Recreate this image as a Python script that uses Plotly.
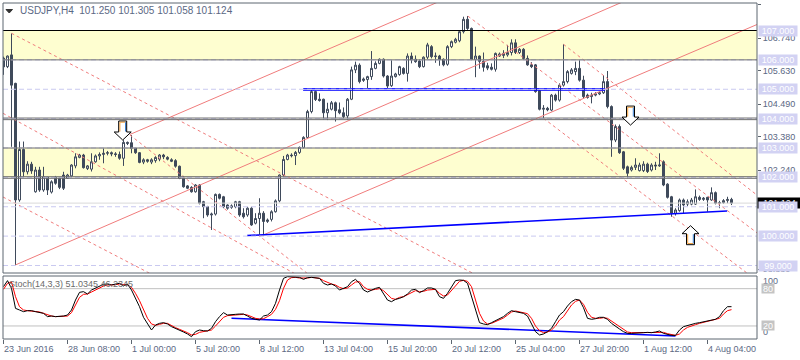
import plotly.graph_objects as go

# ---------------- data ----------------
time_ticks = [0, 16, 32, 48, 64, 80, 96, 112, 128, 144, 160, 176]
time_labels = ["23 Jun 2016", "28 Jun 08:00", "1 Jul 00:00", "5 Jul 20:00", "8 Jul 12:00",
               "13 Jul 04:00", "15 Jul 20:00", "20 Jul 12:00", "25 Jul 04:00", "27 Jul 20:00",
               "1 Aug 12:00", "4 Aug 04:00"]
price_ticks = [107.88, 106.74, 105.63, 104.49, 103.38, 102.24, 98.88]
level_labels = [107, 106, 105, 104, 103, 102, 101, 100, 99]
last_price = 101.124

open_ = [
    106.06, 105.77, 106.17, 105.20, 101.23, 102.95, 102.19, 102.45, 101.51, 102.25,
    101.57, 102.00, 101.50, 101.99, 101.97, 102.08, 101.97, 102.05, 102.39, 102.68,
    102.76, 102.30, 102.28, 102.53, 102.73, 102.78, 102.82, 102.84, 102.80, 102.78,
    102.65, 103.19, 103.18, 102.99, 102.84, 102.52, 102.60, 102.52, 102.57, 102.62,
    102.76, 102.68, 102.60, 102.57, 102.38, 101.97, 101.71, 101.66, 101.51, 101.74,
    101.17, 101.00, 100.72, 100.75, 101.42, 101.34, 101.06, 100.98, 101.00, 101.17,
    100.78, 100.72, 100.95, 100.44, 100.60, 100.78, 100.50, 100.57, 100.83, 101.20,
    102.08, 102.61, 102.76, 102.74, 102.85, 103.02, 103.36, 104.24, 104.92, 104.66,
    104.66, 104.20, 104.32, 104.54, 104.30, 104.20, 104.09, 104.66, 105.66, 105.82,
    105.30, 105.33, 105.43, 105.71, 105.88, 106.02, 105.45, 105.12, 105.43, 105.50,
    105.71, 105.54, 106.13, 106.02, 105.96, 105.77, 106.09, 106.45, 106.11, 106.13,
    106.02, 105.85, 106.45, 106.60, 106.65, 106.96, 107.38, 107.07, 106.02, 106.13,
    105.95, 105.80, 105.75, 105.68, 106.13, 106.15, 106.17, 106.25, 106.58, 106.25,
    106.36, 106.05, 105.83, 105.83, 104.95, 104.32, 104.35, 104.29, 104.80, 104.63,
    105.14, 105.26, 105.54, 105.60, 105.71, 105.31, 104.80, 104.75, 104.80, 104.84,
    104.88, 105.26, 104.41, 103.27, 103.73, 102.87, 102.36, 102.25, 102.34, 102.23,
    102.23, 102.45, 102.25, 102.42, 102.39, 102.53, 101.77, 101.34, 100.78, 100.87,
    101.23, 101.09, 101.09, 101.09, 101.32, 101.25, 101.32, 101.23, 101.48, 101.12,
    101.14, 101.21, 101.250,
]
high_ = [
    106.11, 106.15, 106.90, 105.22, 103.22, 103.22, 102.55, 102.53, 102.36, 102.36,
    102.36, 102.02, 101.90, 102.05, 102.00, 102.19, 102.12, 102.45, 102.82, 102.80,
    102.80, 102.42, 102.82, 102.78, 102.85, 102.99, 102.90, 102.88, 102.86, 102.88,
    103.27, 103.22, 103.44, 103.00, 102.86, 102.65, 102.63, 102.65, 102.72, 102.79,
    102.80, 102.72, 102.65, 102.62, 102.40, 102.05, 101.74, 101.70, 101.77, 101.77,
    101.20, 101.03, 100.80, 101.45, 101.45, 101.37, 101.08, 101.08, 101.20, 101.20,
    100.95, 101.00, 101.00, 100.78, 101.29, 100.85, 100.60, 100.88, 101.25, 102.10,
    102.73, 102.80, 102.82, 102.90, 103.05, 103.40, 104.30, 104.98, 104.95, 104.86,
    104.68, 104.54, 104.60, 104.58, 104.55, 104.38, 104.70, 105.77, 105.94, 105.88,
    105.40, 105.46, 106.30, 105.95, 106.05, 106.05, 105.48, 105.99, 105.56, 105.80,
    105.75, 106.22, 106.25, 106.15, 106.02, 106.12, 106.58, 106.50, 106.25, 106.17,
    106.05, 106.50, 106.66, 106.75, 107.00, 107.47, 107.49, 107.10, 106.45, 106.15,
    106.25, 105.90, 105.88, 106.25, 106.25, 106.33, 106.51, 106.70, 106.70, 106.40,
    106.40, 106.15, 105.92, 105.86, 104.98, 104.46, 104.40, 104.84, 104.85, 105.20,
    106.53, 105.65, 105.72, 105.94, 105.99, 105.46, 104.85, 104.88, 104.90, 104.92,
    105.48, 105.62, 104.45, 103.80, 103.80, 102.90, 102.40, 102.40, 102.65, 102.50,
    102.55, 102.50, 102.48, 102.53, 102.82, 102.58, 101.80, 101.37, 100.95, 101.28,
    101.28, 101.25, 101.30, 101.59, 101.38, 101.33, 101.34, 101.66, 101.52, 101.20,
    101.26, 101.34, 101.305,
]
low_ = [
    105.49, 105.72, 103.04, 99.02, 101.17, 102.02, 102.10, 102.12, 101.48, 101.51,
    101.51, 101.40, 101.45, 101.75, 101.60, 101.57, 101.95, 102.00, 102.31, 102.65,
    102.30, 102.25, 102.20, 102.50, 102.60, 102.48, 102.75, 102.72, 102.70, 102.60,
    102.39, 103.10, 102.82, 102.80, 102.48, 102.45, 102.50, 102.45, 102.50, 102.55,
    102.62, 102.58, 102.52, 102.33, 101.94, 101.65, 101.60, 101.48, 101.48, 101.08,
    100.61, 100.66, 100.21, 100.70, 101.25, 100.95, 100.90, 100.93, 100.95, 100.66,
    100.60, 100.66, 100.35, 100.40, 100.05, 100.02, 100.45, 100.50, 100.80, 101.15,
    102.03, 102.58, 102.68, 102.42, 102.80, 102.98, 103.33, 104.18, 104.60, 104.58,
    103.97, 103.95, 104.28, 103.90, 104.15, 104.00, 103.95, 104.63, 105.55, 105.20,
    105.25, 105.03, 105.32, 105.68, 105.85, 105.40, 105.03, 105.08, 105.40, 105.46,
    105.50, 105.26, 105.88, 105.90, 105.72, 105.74, 106.02, 106.05, 105.90, 105.80,
    105.78, 105.80, 106.40, 106.56, 106.60, 106.90, 107.02, 105.99, 105.41, 105.70,
    105.60, 105.65, 105.64, 105.60, 106.10, 106.06, 106.11, 106.15, 106.20, 106.20,
    106.00, 105.80, 105.72, 104.88, 104.28, 104.01, 104.25, 104.25, 104.58, 104.58,
    105.09, 105.20, 105.50, 105.48, 105.26, 104.70, 104.68, 104.52, 104.76, 104.80,
    104.84, 104.35, 102.70, 103.20, 102.80, 102.25, 101.97, 102.20, 102.25, 102.20,
    102.18, 102.15, 102.20, 102.25, 102.36, 101.70, 101.28, 100.66, 100.70, 100.83,
    100.78, 101.02, 101.05, 101.06, 101.20, 101.20, 100.83, 101.20, 101.08, 100.95,
    101.10, 101.12, 101.058,
]
close_ = [
    105.76, 106.13, 105.14, 101.23, 102.95, 102.19, 102.45, 102.22, 102.25, 101.57,
    102.02, 101.57, 101.85, 101.80, 101.66, 101.63, 102.08, 102.42, 102.70, 102.76,
    102.33, 102.39, 102.53, 102.73, 102.78, 102.82, 102.84, 102.80, 102.78, 102.65,
    103.19, 103.16, 102.99, 102.84, 102.51, 102.60, 102.55, 102.60, 102.68, 102.76,
    102.70, 102.62, 102.55, 102.38, 101.97, 101.68, 101.63, 101.51, 101.74, 101.12,
    101.00, 100.72, 100.75, 101.42, 101.29, 101.00, 100.95, 101.03, 101.17, 100.72,
    100.66, 100.95, 100.38, 100.60, 100.78, 100.50, 100.55, 100.83, 101.20, 102.08,
    102.61, 102.76, 102.74, 102.85, 103.02, 103.36, 104.24, 104.92, 104.65, 104.62,
    104.20, 104.32, 104.54, 104.27, 104.20, 104.07, 104.66, 105.66, 105.82, 105.26,
    105.35, 105.43, 105.71, 105.88, 106.02, 105.45, 105.11, 105.45, 105.52, 105.77,
    105.54, 106.13, 106.00, 105.94, 105.77, 106.09, 106.51, 106.11, 106.13, 106.02,
    105.83, 106.45, 106.62, 106.70, 106.96, 107.38, 107.07, 106.02, 106.13, 105.95,
    105.75, 105.72, 105.68, 106.22, 106.20, 106.22, 106.25, 106.58, 106.25, 106.36,
    106.05, 105.83, 105.77, 104.92, 104.32, 104.35, 104.30, 104.80, 104.63, 105.14,
    105.26, 105.60, 105.66, 105.71, 105.31, 104.75, 104.72, 104.80, 104.84, 104.88,
    105.26, 104.41, 103.27, 103.73, 102.84, 102.31, 102.14, 102.34, 102.42, 102.42,
    102.45, 102.20, 102.42, 102.39, 102.42, 101.74, 101.32, 100.78, 100.89, 101.23,
    101.06, 101.17, 101.23, 101.34, 101.25, 101.29, 101.23, 101.48, 101.12, 101.14,
    101.21, 101.25, 101.124,
]
stoch_k = [
    83.2, 92.9, 80.5, 48.3, 45.7, 43.0, 44.6, 44.6, 43.0, 41.9,
    40.3, 35.0, 36.0, 35.0, 35.0, 36.0, 37.6, 45.7, 61.7, 74.1,
    75.2, 71.4, 77.8, 80.5, 83.2, 87.0, 87.5, 85.9, 87.5, 88.6,
    84.3, 87.5, 77.8, 64.4, 51.0, 33.9, 24.2, 13.5, 21.5, 24.2,
    25.3, 23.2, 18.9, 15.6, 12.4, 10.3, 7.1, 2.8, 10.8, 13.5,
    12.4, 11.9, 16.2, 26.9, 35.0, 41.4, 37.6, 37.6, 38.7, 39.2,
    39.2, 36.0, 32.3, 30.7, 29.6, 36.0, 37.6, 43.0, 56.4, 77.8,
    96.6, 99.3, 99.3, 98.2, 98.2, 95.0, 97.7, 98.2, 97.7, 96.6,
    88.6, 85.9, 87.5, 84.3, 77.8, 80.5, 83.2, 91.2, 95.0, 88.6,
    77.8, 74.6, 77.8, 80.5, 82.1, 72.5, 61.7, 59.1, 62.8, 64.4,
    67.1, 71.4, 77.8, 78.9, 73.6, 76.8, 81.1, 81.1, 78.9, 67.1,
    64.4, 72.5, 83.2, 92.9, 93.9, 93.4, 88.6, 67.1, 45.7, 25.3,
    23.2, 22.1, 25.3, 28.5, 30.7, 35.0, 40.3, 44.6, 43.0, 41.4,
    40.3, 36.0, 24.2, 10.8, 5.5, 7.1, 10.8, 16.2, 26.9, 37.6,
    43.0, 52.1, 59.1, 62.8, 61.7, 49.4, 32.3, 30.7, 31.7, 33.9,
    33.9, 30.7, 24.2, 18.9, 15.1, 10.8, 8.1, 8.1, 8.1, 9.2,
    9.2, 9.7, 9.2, 10.3, 11.9, 8.1, 6.0, 4.9, 4.9, 13.5,
    18.9, 21.0, 23.2, 24.2, 25.3, 26.9, 28.5, 29.6, 30.7, 35.0,
    44.6, 51.0, 51.0345,
]
stoch_d = [
    78.9, 88.6, 90.7, 67.1, 51.0, 45.7, 44.6, 44.1, 43.0, 42.5,
    40.3, 37.6, 36.0, 35.0, 35.0, 35.0, 36.0, 41.4, 53.7, 66.0,
    70.9, 71.4, 74.6, 77.8, 80.5, 84.3, 85.9, 85.9, 86.4, 87.5,
    87.0, 85.9, 82.1, 72.5, 60.7, 45.7, 32.3, 23.2, 21.0, 22.6,
    24.2, 24.2, 20.5, 17.3, 14.6, 12.4, 9.2, 5.5, 6.5, 9.7,
    11.3, 11.9, 13.5, 19.9, 26.9, 33.9, 36.6, 37.1, 37.6, 38.2,
    38.7, 37.6, 35.0, 32.3, 31.2, 31.7, 35.0, 38.7, 46.7, 60.7,
    80.5, 93.9, 97.7, 98.2, 97.1, 96.6, 97.1, 98.2, 97.7, 96.6,
    92.9, 89.6, 87.5, 85.9, 82.1, 80.0, 81.1, 85.9, 90.7, 91.2,
    83.2, 78.9, 77.8, 78.9, 80.0, 76.8, 69.8, 64.4, 62.8, 66.0,
    67.1, 70.3, 74.6, 76.8, 75.2, 75.7, 77.8, 78.9, 78.9, 72.5,
    68.2, 69.8, 76.8, 84.3, 91.8, 93.4, 91.8, 83.2, 61.7, 40.3,
    28.0, 23.2, 24.2, 26.9, 29.6, 32.8, 37.6, 42.5, 44.1, 43.0,
    41.4, 39.8, 32.3, 19.9, 12.4, 9.2, 10.3, 13.5, 19.9, 29.6,
    35.0, 44.6, 53.7, 59.6, 61.7, 54.8, 41.9, 33.9, 32.3, 32.3,
    33.3, 32.3, 28.0, 23.2, 18.9, 14.0, 10.3, 9.2, 9.2, 9.2,
    10.3, 10.3, 9.7, 9.7, 10.3, 9.7, 7.6, 6.0, 4.9, 7.1,
    13.5, 17.8, 20.5, 22.1, 24.2, 25.8, 27.4, 29.0, 30.1, 32.3,
    39.2, 44.6, 46.2345,
]

# drawn objects (bar index, price) endpoints
red_lines = [  # (i0, p0, i1, p1, dash)
    (31.6, 103.46, 110.0, 108.05, "solid"),
    (3.0, 99.02, 160.0, 108.28, "solid"),
    (63.9, 99.98, 189.0, 107.24, "solid"),
    (2.0, 106.905, 118.0, 98.69, "dot"),
    (-0.125, 104.181, 75.0, 98.56, "dot"),
    (-0.125, 101.332, 40.0, 98.49, "dot"),
    (31.6, 103.443, 80.0, 98.30, "dot"),
    (116.1, 107.49, 189.0, 100.05, "dot"),
    (140.0, 106.53, 189.0, 101.33, "dot"),
    (135.0, 104.01, 189.0, 98.42, "dot"),
]
blue_support = (60.9, 100.02, 180.9, 100.855)
blue_double = [(74.9, 105.02, 150.4, 105.02), (74.9, 104.965, 150.4, 104.965)]
blue_stoch = (57.0, 32.3, 168.0, 3.9)
arrows = [(29.8, 103.272, "down"), (156.75, 103.78, "down"), (171.75, 100.355, "up")]

assert len(open_) == len(high_) == len(low_) == len(close_) == len(stoch_k) == len(stoch_d) == 183

# ---------------- style ----------------
FONT = "Liberation Sans, Arial, sans-serif"
TXT = "#5b6884"
CANDLE = "#3f4a5b"
RED = "#f07c7c"
LAV = "#c9c9f0"
GRAYL = "#6e6e6e"
BORDER = "#5d6670"
YELLOW = "#fefed0"
XR = [-0.125, 188.375]
MAIN_DOM = [(339 - 273) / 336, 1.0]
ST_DOM = [0.0, (339 - 276) / 336]
YR = [98.7447, 107.936]
Y2R = [-0.97, 100.37]
PX_BAR = 4.0
PX_PRICE = 29.375

bars = list(range(len(close_)))

fig = go.Figure()

fig.add_trace(go.Candlestick(
    x=bars, open=open_, high=high_, low=low_, close=close_,
    increasing=dict(line=dict(color=CANDLE, width=1), fillcolor="white"),
    decreasing=dict(line=dict(color=CANDLE, width=1), fillcolor=CANDLE),
    whiskerwidth=0, xaxis="x", yaxis="y", showlegend=False, hoverinfo="skip"))

for (i0, p0, i1, p1, dash) in red_lines:
    fig.add_trace(go.Scatter(x=[i0, i1], y=[p0, p1], mode="lines", xaxis="x", yaxis="y",
                             line=dict(color=RED, width=1, dash="3px,3px" if dash == "dot" else "solid"),
                             showlegend=False, hoverinfo="skip"))

fig.add_trace(go.Scatter(x=[blue_support[0], blue_support[2]], y=[blue_support[1], blue_support[3]],
                         mode="lines", xaxis="x", yaxis="y", line=dict(color="#0000ff", width=1.6),
                         showlegend=False, hoverinfo="skip"))
for (i0, p0, i1, p1) in blue_double:
    fig.add_trace(go.Scatter(x=[i0, i1], y=[p0, p1], mode="lines", xaxis="x", yaxis="y",
                             line=dict(color="#0000ff", width=1), showlegend=False, hoverinfo="skip"))

# stochastic
fig.add_trace(go.Scatter(x=[blue_stoch[0], blue_stoch[2]], y=[blue_stoch[1], blue_stoch[3]],
                         mode="lines", xaxis="x2", yaxis="y2", line=dict(color="#0000ff", width=1.6),
                         showlegend=False, hoverinfo="skip"))
fig.add_trace(go.Scatter(x=bars, y=stoch_d, mode="lines", xaxis="x2", yaxis="y2",
                         line=dict(color="#ff0000", width=1), showlegend=False, hoverinfo="skip"))
fig.add_trace(go.Scatter(x=bars, y=stoch_k, mode="lines", xaxis="x2", yaxis="y2",
                         line=dict(color="#000000", width=1), showlegend=False, hoverinfo="skip"))

shapes = []
# yellow zones
for lo, hi in [(106, 107), (102, 103)]:
    shapes.append(dict(type="rect", xref="x domain", yref="y", x0=0, x1=1, y0=lo, y1=hi,
                       fillcolor=YELLOW, line=dict(width=0), layer="below"))


def hline(p, color, dash="solid", width=1, layer="above", yref="y", xref="x domain"):
    shapes.append(dict(type="line", xref=xref, yref=yref, x0=0, x1=1, y0=p, y1=p,
                       line=dict(color=color, width=width, dash=dash), layer=layer))


for lv in level_labels:
    hline(lv, LAV, dash="5px,3px")
hline(last_price, "#d9d9d9")
hline(107, "#000000")
hline(106, GRAYL)
hline(103, GRAYL)
hline(104.02, GRAYL)
hline(103.965, GRAYL)
hline(102.023, GRAYL)
hline(101.968, GRAYL)
hline(80, "#c0c0c0", yref="y2", xref="x2 domain", layer="below")
hline(20, "#c0c0c0", yref="y2", xref="x2 domain", layer="below")

# panel borders
shapes.append(dict(type="rect", xref="paper", yref="paper", x0=0, x1=1, y0=MAIN_DOM[0], y1=1,
                   line=dict(color=BORDER, width=1), fillcolor="rgba(0,0,0,0)", layer="above"))
shapes.append(dict(type="rect", xref="paper", yref="paper", x0=0, x1=1, y0=ST_DOM[0], y1=ST_DOM[1],
                   line=dict(color=BORDER, width=1), fillcolor="rgba(0,0,0,0)", layer="above"))


def px_to_paper(px, py):
    return (px - 3) / 754, (339 - py) / 336


tri = [px_to_paper(6, 9.5), px_to_paper(12.5, 9.5), px_to_paper(9.25, 13)]
shapes.append(dict(type="path", xref="paper", yref="paper",
                   path="M{},{} L{},{} L{},{} Z".format(tri[0][0], tri[0][1], tri[1][0], tri[1][1], tri[2][0], tri[2][1]),
                   fillcolor="#333333", line=dict(color="#333333", width=1), layer="above"))

# arrows
HEAD_W, HEAD_L, SH_W, SH_L = 8.5, 8.0, 4.0, 11.0
for (ai, ap, d) in arrows:
    s = 1 if d == "down" else -1

    def P(dx, dy):
        return ai + dx / PX_BAR, ap + s * dy / PX_PRICE
    pts = [P(0, 0), P(-HEAD_W, HEAD_L), P(-SH_W, HEAD_L), P(-SH_W, HEAD_L + SH_L),
           P(SH_W, HEAD_L + SH_L), P(SH_W, HEAD_L), P(HEAD_W, HEAD_L)]
    path = "M" + " L".join("{:.4f},{:.4f}".format(x, y) for x, y in pts) + " Z"
    shapes.append(dict(type="path", xref="x", yref="y", path=path, fillcolor="white",
                       line=dict(color="#000000", width=1), layer="above"))
    o = [P(-SH_W + 1.2, HEAD_L + 0.5), P(-SH_W + 1.2, HEAD_L + SH_L - 1.2), P(SH_W - 1.2, HEAD_L + SH_L - 1.2)]
    shapes.append(dict(type="path", xref="x", yref="y",
                       path="M{:.4f},{:.4f} L{:.4f},{:.4f} L{:.4f},{:.4f}".format(o[0][0], o[0][1], o[1][0], o[1][1], o[2][0], o[2][1]),
                       line=dict(color="#f0a040", width=1), layer="above"))
    b = [P(SH_W - 1.2, HEAD_L + SH_L - 1.2), P(SH_W - 1.2, HEAD_L + 0.5)]
    shapes.append(dict(type="path", xref="x", yref="y",
                       path="M{:.4f},{:.4f} L{:.4f},{:.4f}".format(b[0][0], b[0][1], b[1][0], b[1][1]),
                       line=dict(color="#3a7fd0", width=1), layer="above"))

annotations = []
annotations.append(dict(xref="paper", yref="paper", x=0, y=(339 - 10.5) / 336, xanchor="left", yanchor="middle",
                        xshift=15, showarrow=False,
                        text="USDJPY,H4&nbsp;&nbsp;101.250 101.305 101.058 101.124",
                        font=dict(family=FONT, size=10, color=TXT)))
annotations.append(dict(xref="paper", yref="paper", x=0, y=(339 - 284) / 336, xanchor="left", yanchor="middle",
                        xshift=4, showarrow=False,
                        text="Stoch(14,3,3) {:.4f} {:.4f}".format(stoch_k[-1], stoch_d[-1]),
                        font=dict(family=FONT, size=9, color="#6a6a6a")))
for tb, tl in zip(time_ticks, time_labels):
    annotations.append(dict(xref="x2", yref="paper", x=tb, y=(339 - 348.5) / 336, xanchor="left",
                            yanchor="middle", xshift=-2, showarrow=False, text=tl,
                            font=dict(family=FONT, size=9, color=TXT)))

# current price box (black) then level label boxes
annotations.append(dict(xref="paper", yref="y", x=1, y=last_price, xanchor="left", yanchor="middle",
                        xshift=0, showarrow=False, text=f"{last_price:.3f}", bgcolor="#000000",
                        width=43, height=10, borderpad=0, font=dict(family=FONT, size=9, color="white")))
for lv in level_labels:
    annotations.append(dict(xref="paper", yref="y", x=1, y=lv, xanchor="left", yanchor="middle",
                            xshift=1, showarrow=False, text=f"{lv:.3f}", bgcolor="#d2d2f3",
                            width=38, height=10, borderpad=0, font=dict(family=FONT, size=9, color="white")))

# stochastic right labels
annotations.append(dict(xref="paper", yref="y2", x=1, y=92.3, xanchor="left", yanchor="middle", xshift=4,
                        showarrow=False, text="100", font=dict(family=FONT, size=9, color=TXT)))
annotations.append(dict(xref="paper", yref="y2", x=1, y=10.3, xanchor="left", yanchor="middle", xshift=4,
                        showarrow=False, text="0", font=dict(family=FONT, size=9, color=TXT)))
for lv in (80, 20):
    annotations.append(dict(xref="paper", yref="y2", x=1, y=lv, xanchor="left", yanchor="middle", xshift=4,
                            showarrow=False, text=str(lv), bgcolor="#c4c4c4", width=12, height=9, borderpad=0,
                            font=dict(family=FONT, size=9, color="white")))

fig.update_layout(
    width=800, height=360, margin=dict(l=3, r=43, t=3, b=21, autoexpand=False),
    paper_bgcolor="white", plot_bgcolor="white", showlegend=False,
    boxgap=0.5, boxgroupgap=0,
    xaxis=dict(domain=[0, 1], range=XR, anchor="y", showgrid=False, zeroline=False, automargin=False,
               showticklabels=False, ticks="", rangeslider=dict(visible=False), fixedrange=True),
    yaxis=dict(domain=MAIN_DOM, range=YR, anchor="x", side="right", showgrid=False, zeroline=False,
               automargin=False,
               tickvals=price_ticks, ticktext=[f"{v:.3f}" for v in price_ticks], ticks="outside",
               ticklen=3, tickcolor=BORDER, tickfont=dict(family=FONT, size=9, color=TXT)),
    xaxis2=dict(domain=[0, 1], range=XR, anchor="y2", showgrid=False, zeroline=False, automargin=False,
                tickvals=time_ticks, ticks="outside", ticklen=4, tickcolor=BORDER, showticklabels=False,
                fixedrange=True),
    yaxis2=dict(domain=ST_DOM, range=Y2R, anchor="x2", showgrid=False, zeroline=False, automargin=False,
                showticklabels=False, ticks=""),
    shapes=shapes, annotations=annotations,
)

fig.write_html("out.html", config={"displayModeBar": False},
               post_script="document.body.style.margin='0';document.body.style.overflow='hidden';")
